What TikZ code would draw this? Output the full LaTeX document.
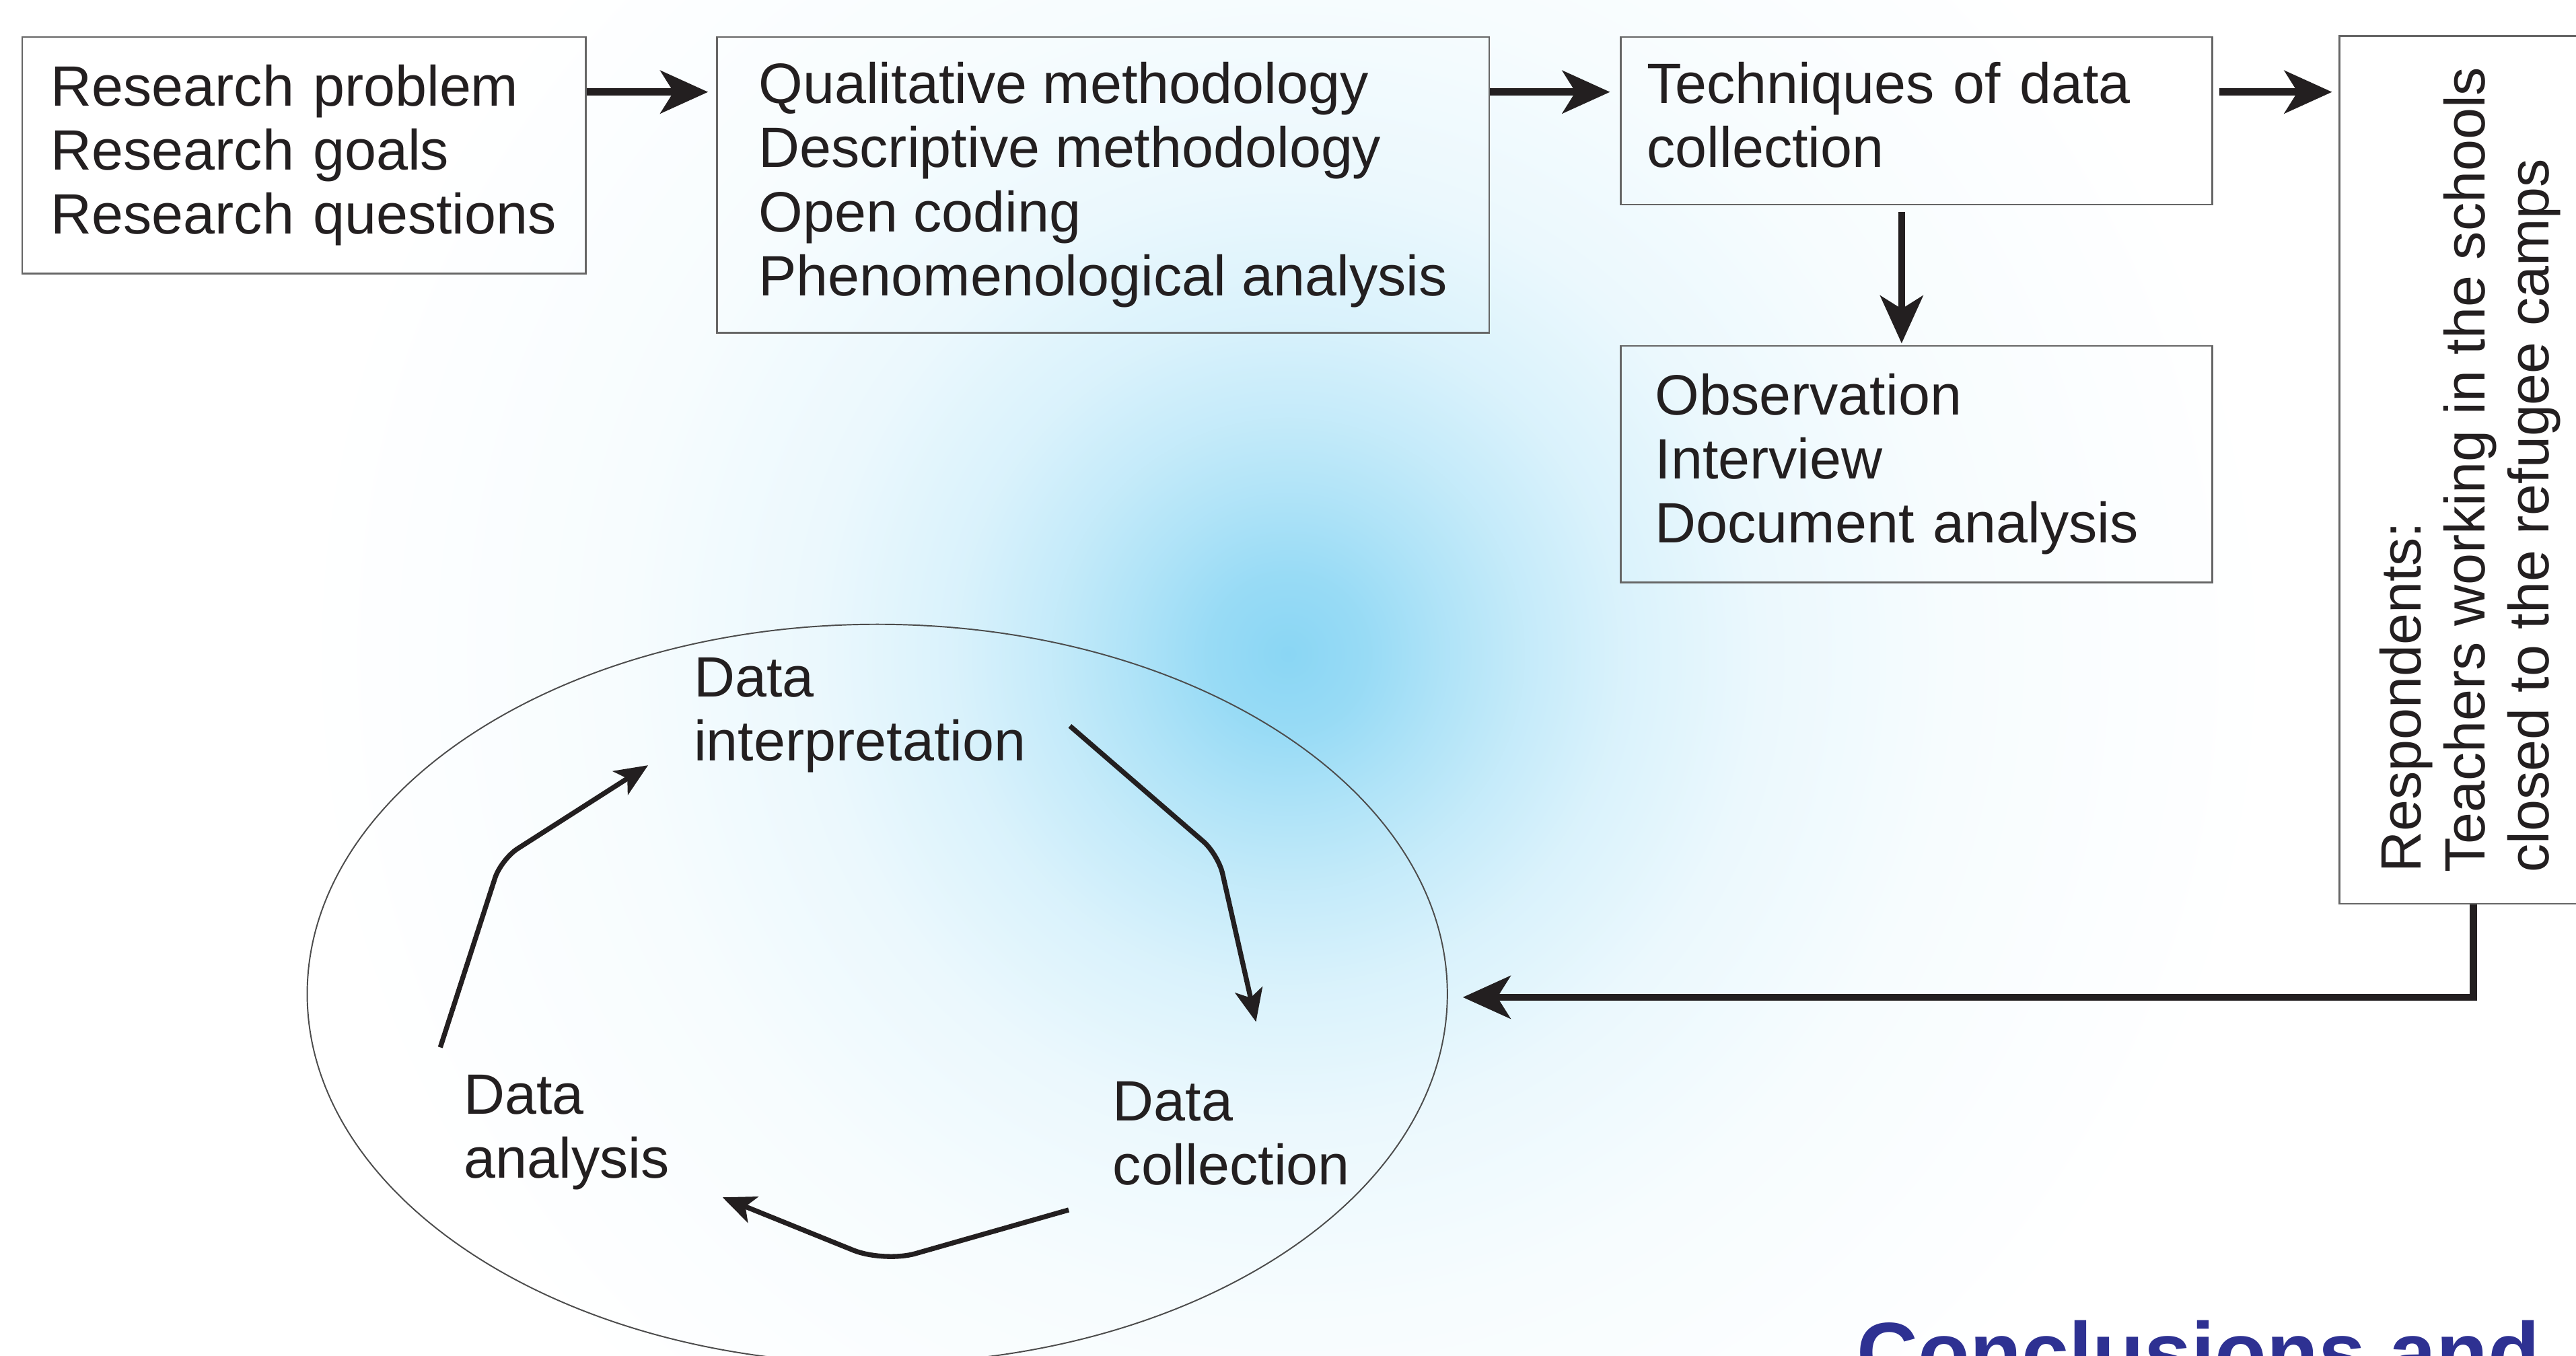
\documentclass[tikz,border=0pt]{standalone}
\usepackage{fontspec}
\setmainfont{Liberation Sans}
\usetikzlibrary{arrows.meta,positioning,shapes.geometric}
\definecolor{ink}{RGB}{35,31,32}
\definecolor{glowblue}{RGB}{138,214,244}
\definecolor{headblue}{RGB}{46,49,146}
\newcommand{\boxfont}{\fontsize{17.3pt}{19.5pt}\selectfont}
\pgfdeclareradialshading{glow}{\pgfpointorigin}{color(0bp)=(glowblue); color(2bp)=(glowblue!88!white); color(4bp)=(glowblue!68!white); color(6bp)=(glowblue!50!white); color(8.5bp)=(glowblue!32!white); color(12bp)=(glowblue!17!white); color(17bp)=(glowblue!7!white); color(25bp)=(white); color(50bp)=(white)}
\tikzset{>={Stealth[length=14.5pt,width=13pt,inset=4pt]}}

\begin{document}
\begin{tikzpicture}[x=0.5pt,y=-0.5pt,
  box/.style={draw=black!60, line width=0.5pt, align=left, inner xsep=10pt, text=ink, font=\boxfont},
  lbl/.style={align=left, inner sep=0pt, anchor=north west, text=ink, font=\boxfont},
  flow/.style={->, line width=2.2pt, draw=ink},
  turn/.style={-{Stealth[length=10pt,width=8.5pt,inset=2.5pt]}, line width=1.5pt, draw=ink, rounded corners=6pt}]
	\path[use as bounding box, fill=white] (0,0) rectangle (1568,825);
	\shade[shading=glow] (784,398) circle (600);

	% top row
	\node[box, text width=154pt, inner xsep=8.75pt, minimum height=72pt, anchor=north west] (prob) at (13,22) {Research problem\\Research goals\\Research questions};
	\node[box, minimum width=235pt, minimum height=90pt, right=39.5pt of prob.north east, anchor=north west] (meth) {Qualitative methodology\\Descriptive methodology\\Open coding\\Phenomenological analysis};
	\node[box, text width=164pt, inner xsep=8pt, minimum height=51pt, right=39.5pt of meth.north east, anchor=north west] (tech) {Techniques of data\\collection\vphantom{g}};
	\node[box, text width=159pt, inner xsep=10.5pt, minimum height=72pt, below=42.5pt of tech.south west, anchor=north west] (obs) {Observation\\Interview\\Document analysis};
	\node[box, rotate=90, minimum width=264pt, minimum height=79.5pt, inner xsep=8.5pt] (resp) at (1503.5,286) {Respondents:\\Teachers working in the schools\\closed to the refugee camps};

	% cycle
	\node[ellipse, draw=black!70, line width=0.4pt, minimum width=347pt, minimum height=225pt, inner sep=0pt] (datacycle) at (534,605) {};
	\node[lbl] (interp) at (422,400) {Data\\interpretation};
	\node[lbl] (coll) at (677,658) {Data\\collection};
	\node[lbl] (anal) at (282,654) {Data\\analysis};

	\node[anchor=base west, inner sep=0pt, text=headblue, font=\bfseries\fontsize{25.8pt}{30pt}\selectfont] (concl) at (1130,841) {Conclusions and};

	\coordinate (tr) at ([yshift=-17pt]tech.north east);
	\draw[flow, shorten >=2.5pt] ([yshift=-17pt]prob.north east) -- ([yshift=-17pt]meth.north west);
	\draw[flow, shorten >=3pt] ([yshift=-17pt]meth.north east) -- ([yshift=-17pt]tech.north west);
	\draw[flow, shorten <=2pt, shorten >=2pt] (tr) -- (tr -| resp.north);
	\draw[flow, shorten <=2pt, shorten >=0.5pt] ([xshift=-4.5pt]tech.south) -- ([xshift=-4.5pt]obs.north);
	\draw[flow, shorten >=4.5pt] ([xshift=1pt]resp.west) |- ([yshift=-1pt]datacycle.east);

	\draw[turn] ([shift={(26.5,6.5)}]interp.east) -- (741.5,520) -- ([shift={(15,-36)}]coll.north);
	\draw[turn, rounded corners=10pt] ([shift={(-26.5,14.5)}]coll.south west) -- (538,768.5) -- ([shift={(32,4)}]anal.south east);
	\draw[turn] ([shift={(-14,-16.5)}]anal.north west) -- (305,523) -- ([shift={(-27.5,-5)}]interp.south west);
\end{tikzpicture}
\end{document}
